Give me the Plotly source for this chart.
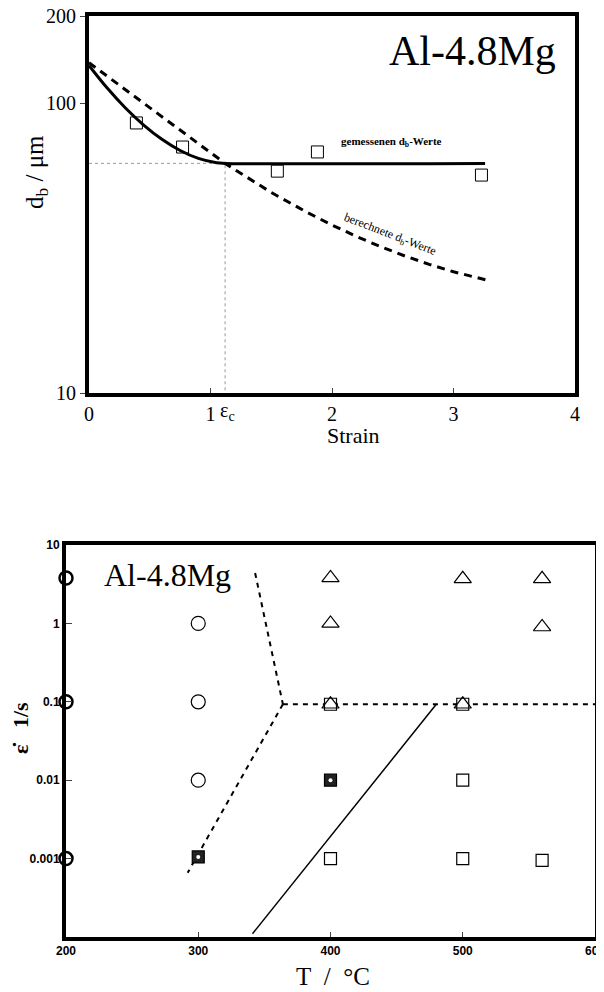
"""Al-4.8Mg: grain size vs strain, and deformation map T vs strain rate."""

import plotly.graph_objects as go

SERIF = "Liberation Serif, Times New Roman, serif"
SANS = "Liberation Sans, Arial, sans-serif"
W, H = 604, 992
OFF = 8  # page body margin


def px(x):
    return (x - OFF) / W


def py(y):
    return 1 - (y - OFF) / H


# ---- top chart: d_b vs strain ----
meas_strain = [0.39, 0.77, 1.55, 1.88, 3.23]
meas_db     = [85.5, 70.6, 58.3, 67.9, 56.5]

fit_strain = [0.0, 0.15, 0.30, 0.45, 0.60, 0.75, 0.90, 1.05, 1.12, 3.26]
fit_db     = [135, 112.8, 96.3, 84.1, 75.1, 68.7, 64.5, 62.3, 62, 62]

calc_strain = [0.0, 0.50, 1.12, 1.50, 1.80, 2.0, 2.2, 2.4, 2.6, 2.8, 3.0, 3.28]
calc_db     = [138, 96.6, 62, 49.2, 41.9, 38.0, 34.7, 32.0, 29.7, 27.8, 26.2, 24.5]

eps_c = 1.12
d_c = 62

# ---- bottom chart: deformation map ----
circ_T    = [300, 300, 300]
circ_rate = [1, 0.1, 0.01]
circ_axis_T    = [200, 200, 200]
circ_axis_rate = [3.8, 0.1, 0.001]
tri_T    = [400, 500, 560, 400, 560, 400, 500]
tri_rate = [3.8, 3.7, 3.7, 1.0, 0.9, 0.093, 0.093]
sq_T    = [400, 500, 500, 400, 500, 560]
sq_rate = [0.093, 0.093, 0.01, 0.001, 0.001, 0.00095]
dark_T    = [300, 400]
dark_rate = [0.00105, 0.01]

upper_T    = [343, 364]
upper_rate = [4.4, 0.093]
lower_T    = [364, 292]
lower_rate = [0.093, 0.00066]
horiz_T    = [364, 600]
horiz_rate = [0.093, 0.093]
solid_T    = [341, 480]
solid_rate = [0.00011, 0.093]

fig = go.Figure()

# top traces
fig.add_trace(go.Scatter(x=[0, eps_c, eps_c], y=[d_c, d_c, 10], mode="lines",
                         line=dict(color="#999", width=1, dash="dot"),
                         xaxis="x", yaxis="y"))
fig.add_trace(go.Scatter(x=fit_strain, y=fit_db, mode="lines", line_shape="spline",
                         line=dict(color="black", width=3), xaxis="x", yaxis="y"))
fig.add_trace(go.Scatter(x=calc_strain, y=calc_db, mode="lines",
                         line=dict(color="black", width=3, dash="8px,6px"),
                         xaxis="x", yaxis="y"))
fig.add_trace(go.Scatter(x=meas_strain, y=meas_db, mode="markers",
                         marker=dict(symbol="square-open", size=12, color="black",
                                     line=dict(width=1)),
                         xaxis="x", yaxis="y"))

# bottom traces
for xs, ys, dash, w in [(upper_T, upper_rate, "5px,5px", 2),
                        (lower_T, lower_rate, "5px,5px", 2),
                        (horiz_T, horiz_rate, "5px,5px", 2),
                        (solid_T, solid_rate, "solid", 1.5)]:
    fig.add_trace(go.Scatter(x=xs, y=ys, mode="lines",
                             line=dict(color="black", width=w, dash=dash),
                             xaxis="x2", yaxis="y2"))

fig.add_trace(go.Scatter(x=sq_T, y=sq_rate, mode="markers",
                         marker=dict(symbol="square", size=12, color="white",
                                     line=dict(width=1.2, color="black")),
                         xaxis="x2", yaxis="y2"))
fig.add_trace(go.Scatter(x=tri_T, y=tri_rate, mode="markers",
                         marker=dict(symbol="triangle-up-open", size=15, color="black",
                                     line=dict(width=1.2)),
                         xaxis="x2", yaxis="y2"))
fig.add_trace(go.Scatter(x=circ_T, y=circ_rate, mode="markers",
                         marker=dict(symbol="circle-open", size=14, color="black",
                                     line=dict(width=1.2)),
                         xaxis="x2", yaxis="y2"))
fig.add_trace(go.Scatter(x=circ_axis_T, y=circ_axis_rate, mode="markers", cliponaxis=False,
                         marker=dict(symbol="circle-open", size=13, color="black",
                                     line=dict(width=2.5)),
                         xaxis="x2", yaxis="y2"))
fig.add_trace(go.Scatter(x=dark_T, y=dark_rate, mode="markers",
                         marker=dict(symbol="square", size=12, color="#222",
                                     line=dict(width=1.2, color="black")),
                         xaxis="x2", yaxis="y2"))
fig.add_trace(go.Scatter(x=dark_T, y=dark_rate, mode="markers",
                         marker=dict(symbol="circle", size=4, color="white"),
                         xaxis="x2", yaxis="y2"))

axis_common = dict(showgrid=False, zeroline=False, showline=True, mirror=True,
                   linecolor="black", automargin=False, ticklabeloverflow="allow")

fig.update_layout(
    width=W, height=H,
    paper_bgcolor="white", plot_bgcolor="white",
    margin=dict(l=0, r=0, t=0, b=0),
    showlegend=False,
    xaxis=dict(domain=[px(89), px(575)], anchor="y", range=[0, 4],
               tickvals=[0, 1, 2, 3, 4], ticktext=["0", "1", "2", "3", "4"],
               ticks="inside", ticklen=5, linewidth=4,
               tickfont=dict(family=SERIF, size=20, color="black"), **axis_common),
    yaxis=dict(domain=[py(393), py(16)], anchor="x", type="log",
               range=[1, 2.30103], tickvals=[10, 100, 200],
               ticktext=["10", "100", "200"], ticks="outside", ticklen=5,
               linewidth=4,
               tickfont=dict(family=SERIF, size=20, color="black"), **axis_common),
    xaxis2=dict(domain=[px(66), px(595)], anchor="y2", range=[200, 600],
                tickvals=[200, 300, 400, 500, 600], ticks="inside", ticklen=5,
                linewidth=4,
                tickfont=dict(family=SANS, size=12, color="black", weight="bold"),
                **axis_common),
    yaxis2=dict(domain=[py(937), py(545)], anchor="x2", type="log",
                range=[-4, 1], tickvals=[0.001, 0.01, 0.1, 1, 10],
                ticktext=["0.001", "0.01", "0.1", "1", "10"], ticks="inside",
                ticklen=6, linewidth=4,
                tickfont=dict(family=SANS, size=12, color="black", weight="bold"),
                **axis_common),
)

NB = "\u00a0"
ann = [
    # top chart
    dict(x=px(558), y=py(51), xref="paper", yref="paper", xanchor="right",
         text="Al-4.8Mg", font=dict(family=SERIF, size=42)),
    dict(x=2.49, y=1.866, xref="x", yref="y", text="<b>gemessenen d<sub>b</sub>-Werte</b>",
         font=dict(family=SERIF, size=11)),
    dict(x=2.48, y=1.545, xref="x", yref="y", text="berechnete d<sub>b</sub>-Werte",
         textangle=21, font=dict(family=SERIF, size=12)),
    dict(x=eps_c + 0.02, y=py(411), xref="x", yref="paper",
         text="ε<sub>c</sub>", font=dict(family=SERIF, size=20)),
    dict(x=px(353), y=py(435), xref="paper", yref="paper", text="Strain",
         font=dict(family=SERIF, size=22)),
    dict(x=px(37), y=py(172), xref="paper", yref="paper",
         text="d<sub>b</sub> / μm", textangle=-90, font=dict(family=SERIF, size=25)),
    # bottom chart
    dict(x=px(167), y=py(575), xref="paper", yref="paper", text="Al-4.8Mg",
         font=dict(family=SERIF, size=32)),
    dict(x=px(333), y=py(976), xref="paper", yref="paper", text=f"T{NB}{NB}/{NB}{NB}°C",
         font=dict(family=SERIF, size=25)),
    dict(x=px(20), y=py(728), xref="paper", yref="paper",
         text=f"<b>ε̇{NB}{NB}{NB}1/s</b>", textangle=-90, font=dict(family=SERIF, size=22)),
]
for a in ann:
    a.setdefault("showarrow", False)
    a.setdefault("xanchor", "center")
    a.setdefault("yanchor", "middle")
    a["font"].setdefault("color", "black")
fig.update_layout(annotations=ann)

fig.write_html("out.html")
